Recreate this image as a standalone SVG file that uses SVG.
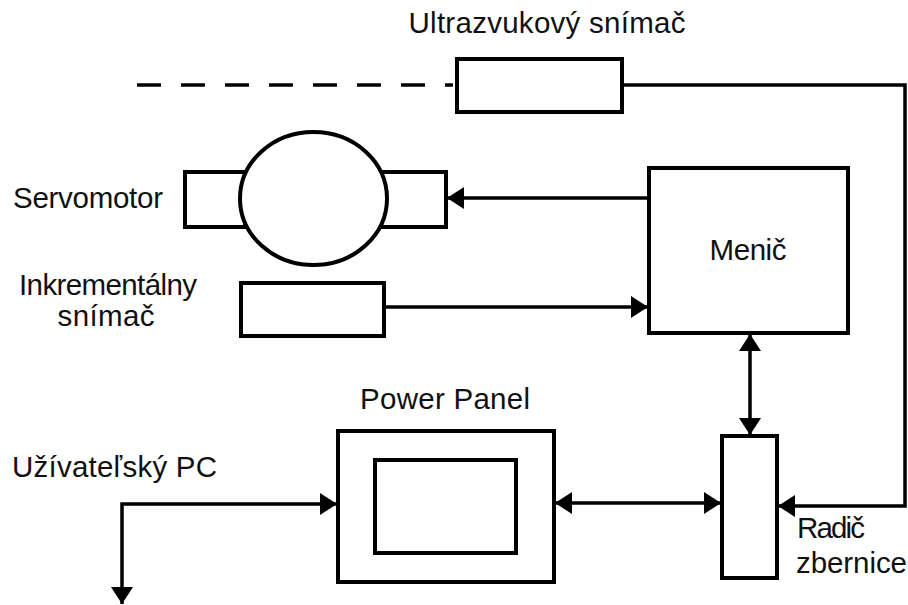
<svg xmlns="http://www.w3.org/2000/svg" width="908" height="605" viewBox="0 0 908 605">
<style>
.box{fill:#fff;stroke:#000;stroke-width:4}
.ln{fill:none;stroke:#000;stroke-width:3.5}
.t{font-family:"Liberation Sans",Arial,sans-serif;font-size:29.5px;fill:#111}
</style>
<defs>
<marker id="ah" markerUnits="userSpaceOnUse" markerWidth="18" markerHeight="22" refX="17" refY="11" orient="auto-start-reverse" viewBox="0 0 18 22">
<path d="M0,0 L17,11 L0,22 z" fill="#000"/>
</marker>
</defs>
<rect width="908" height="605" fill="#fff"/>
<g id="connectors">
<line class="ln" x1="137" y1="85" x2="453" y2="85" stroke-dasharray="24,20"/>
<polyline class="ln" points="622,85 905,85 905,506 778,506" marker-end="url(#ah)"/>
<line class="ln" x1="649" y1="198" x2="447" y2="198" marker-end="url(#ah)"/>
<line class="ln" x1="385" y1="307" x2="648" y2="307" marker-end="url(#ah)"/>
<line class="ln" x1="750" y1="334" x2="750" y2="435" marker-start="url(#ah)" marker-end="url(#ah)"/>
<line class="ln" x1="555" y1="503" x2="721" y2="503" marker-start="url(#ah)" marker-end="url(#ah)"/>
<polyline class="ln" points="122,604 122,504 337,504" marker-start="url(#ah)" marker-end="url(#ah)"/>
</g>
<g id="ultrazvuk">
<rect class="box" x="457" y="59" width="165" height="53"/>
<text class="t" x="547" y="33" text-anchor="middle" textLength="277">Ultrazvukový snímač</text>
</g>
<g id="servomotor">
<rect class="box" x="185" y="172" width="60" height="55"/>
<rect class="box" x="380" y="172" width="66" height="55"/>
<ellipse class="box" cx="313.5" cy="198.5" rx="73.5" ry="66.5"/>
<text class="t" x="13" y="208" textLength="150">Servomotor</text>
</g>
<g id="inkrement">
<rect class="box" x="241" y="283" width="143" height="53"/>
<text class="t" x="108" y="295" text-anchor="middle" textLength="178">Inkrementálny</text>
<text class="t" x="106" y="326" text-anchor="middle" textLength="97">snímač</text>
</g>
<g id="menic">
<rect class="box" x="649" y="168" width="199" height="165"/>
<text class="t" x="748" y="260" text-anchor="middle" textLength="77">Menič</text>
</g>
<g id="power-panel">
<rect class="box" x="338" y="431" width="216" height="151"/>
<rect class="box" x="375" y="460" width="141" height="93"/>
<text class="t" x="445" y="409" text-anchor="middle" textLength="170">Power  Panel</text>
</g>
<g id="radic">
<rect class="box" x="722" y="436" width="55" height="142"/>
<text class="t" x="797" y="538" textLength="68">Radič</text>
<text class="t" x="796" y="573" textLength="111">zbernice</text>
</g>
<g id="pc">
<text class="t" x="12" y="477" textLength="205">Užívateľský PC</text>
</g>
</svg>
